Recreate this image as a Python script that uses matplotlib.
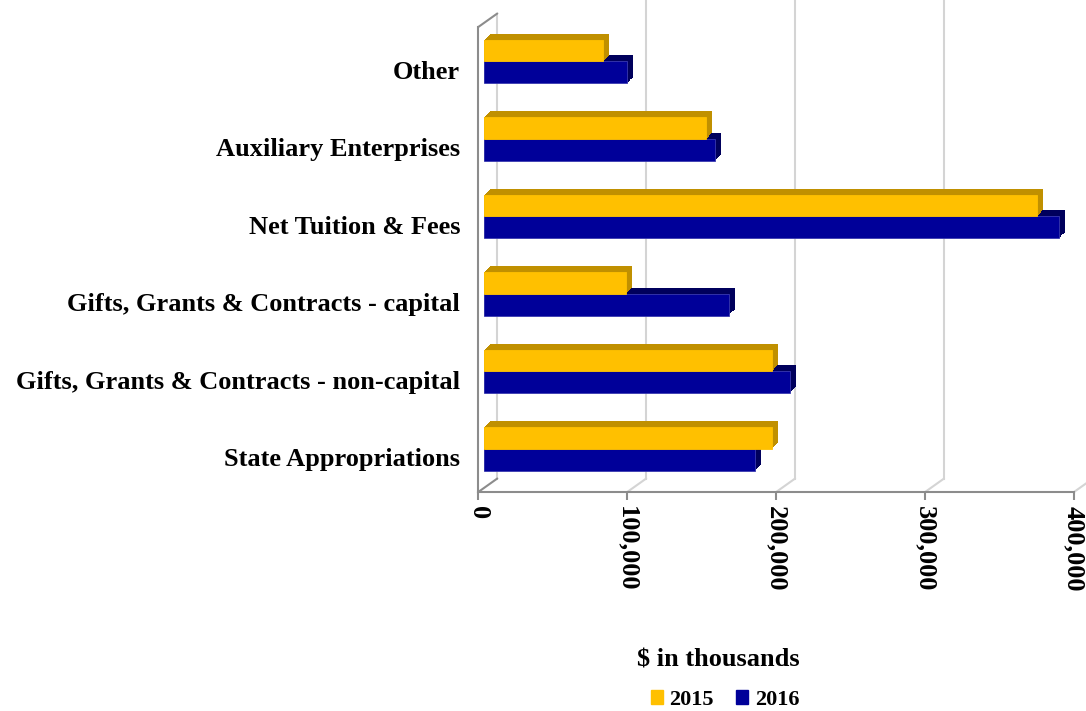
import numpy as np
import matplotlib
matplotlib.use("Agg")
import matplotlib.pyplot as plt
import matplotlib.transforms as mtransforms
from matplotlib.patches import Patch


# ------------------------------
# Data (values in $ thousands)
# ------------------------------
categories = [
    "State Appropriations",
    "Gifts, Grants & Contracts - non-capital",
    "Gifts, Grants & Contracts - capital",
    "Net Tuition & Fees",
    "Auxiliary Enterprises",
    "Other",
]
values_2015 = [193000, 193000, 95000, 371000, 149000, 80000]
values_2016 = [182000, 205000, 164000, 386000, 155000, 96000]
years = ["2015", "2016"]
x_ticks = [0, 100000, 200000, 300000, 400000]


# ------------------------------
# Style
# ------------------------------
FONT = "Liberation Serif"
YELLOW, YELLOW_SIDE = "#FFC000", "#C09000"
BLUE, BLUE_SIDE = "#000099", "#00005C"
AXIS_GREY = "#8C8C8C"
GRID_GREY = "#D4D4D4"

WALL_DX, WALL_DY = 19, 13.5      # depth of the 3D box, pixels
BAR_FRONT = (6, 4.3)             # bar front face offset from the front plane
BAR_DEPTH = (6, 6)               # extrusion of each bar
BAR_H = 0.28


def shifted(ax, fig, dx, dy):
    return mtransforms.offset_copy(ax.transData, fig=fig, x=dx, y=dy, units="dots")


def draw_bar_3d(ax, fig, y, values, side):
    # extrusion: many copies pushed backwards, then the front face on top
    for t in np.linspace(1, 0, 14):
        tr = shifted(ax, fig, BAR_FRONT[0] + t * BAR_DEPTH[0], BAR_FRONT[1] + t * BAR_DEPTH[1])
        ax.barh(y, values, height=BAR_H, color=side, linewidth=0, transform=tr, zorder=3)


def draw_front(ax, fig, y, values, face, edge=None):
    tr = shifted(ax, fig, *BAR_FRONT)
    ax.barh(y, values, height=BAR_H, color=face, transform=tr, zorder=4,
            edgecolor=edge if edge else face, linewidth=0.6)


# ------------------------------
# Chart
# ------------------------------
fig = plt.figure(figsize=(10.86, 7.11), dpi=100)
ax = fig.add_axes([478.3 / 1086, (711 - 492) / 711, 595.7 / 1086, 465 / 711])

y = np.arange(len(categories))
ax.set_xlim(0, 400000)
ax.set_ylim(-0.5, len(categories) - 0.5)

# back wall gridlines + floor diagonals
back = shifted(ax, fig, WALL_DX, WALL_DY)
y0, y1 = ax.get_ylim()
for xt in x_ticks:
    top = y1 if xt == 0 else y1 + 1
    ax.plot([xt, xt], [y0, top], color=GRID_GREY, lw=1.5, transform=back,
            clip_on=False, zorder=1)
    ax.annotate("", xy=(xt, y0), xycoords="data", xytext=(WALL_DX, WALL_DY),
                textcoords="offset pixels",
                arrowprops=dict(arrowstyle="-", color=AXIS_GREY if xt == 0 else GRID_GREY,
                                lw=1.5, shrinkA=0, shrinkB=0),
                annotation_clip=False, zorder=1)
# top edge of left wall
ax.annotate("", xy=(0, y1), xycoords="data", xytext=(WALL_DX, WALL_DY),
            textcoords="offset pixels",
            arrowprops=dict(arrowstyle="-", color=AXIS_GREY, lw=1.5, shrinkA=0, shrinkB=0),
            annotation_clip=False, zorder=1)

y15 = y + BAR_H / 2
y16 = y - BAR_H / 2
draw_bar_3d(ax, fig, y16, values_2016, BLUE_SIDE)
draw_bar_3d(ax, fig, y15, values_2015, YELLOW_SIDE)
draw_front(ax, fig, y16, values_2016, BLUE, edge="#3A3AB0")
draw_front(ax, fig, y15, values_2015, YELLOW)

# axes look
for s in ["top", "right"]:
    ax.spines[s].set_visible(False)
for s in ["left", "bottom"]:
    ax.spines[s].set_color(AXIS_GREY)
    ax.spines[s].set_linewidth(1.5)
ax.set_facecolor("none")

ax.set_xticks(x_ticks)
ax.set_xticklabels([f"{v:,}" for v in x_ticks], rotation=-90, va="top", ha="center",
                   fontsize=19, fontweight="bold", family=FONT)
ax.tick_params(axis="x", length=6, width=1.5, color=AXIS_GREY, pad=4)
ax.set_yticks(y)
ax.set_yticklabels(categories, fontsize=19, fontweight="bold", family=FONT)
ax.tick_params(axis="y", length=0, pad=13)
down = mtransforms.ScaledTranslation(0, -4 / 100, fig.dpi_scale_trans)
for lbl in ax.get_yticklabels():
    lbl.set_transform(lbl.get_transform() + down)

fig.text(718 / 1086, (711 - 660) / 711, "$ in thousands", ha="center", va="center",
         fontsize=19, fontweight="bold", family=FONT)

handles = [Patch(color=YELLOW, label=years[0]), Patch(color=BLUE, label=years[1])]
fig.legend(handles=handles, loc="center", bbox_to_anchor=(725 / 1086, (711 - 700) / 711),
           ncol=2, frameon=False, handlelength=0.55, handleheight=0.55, handletextpad=0.3,
           columnspacing=1.0, prop=dict(family=FONT, weight="bold", size=16))

fig.savefig("out.png", dpi=100)
